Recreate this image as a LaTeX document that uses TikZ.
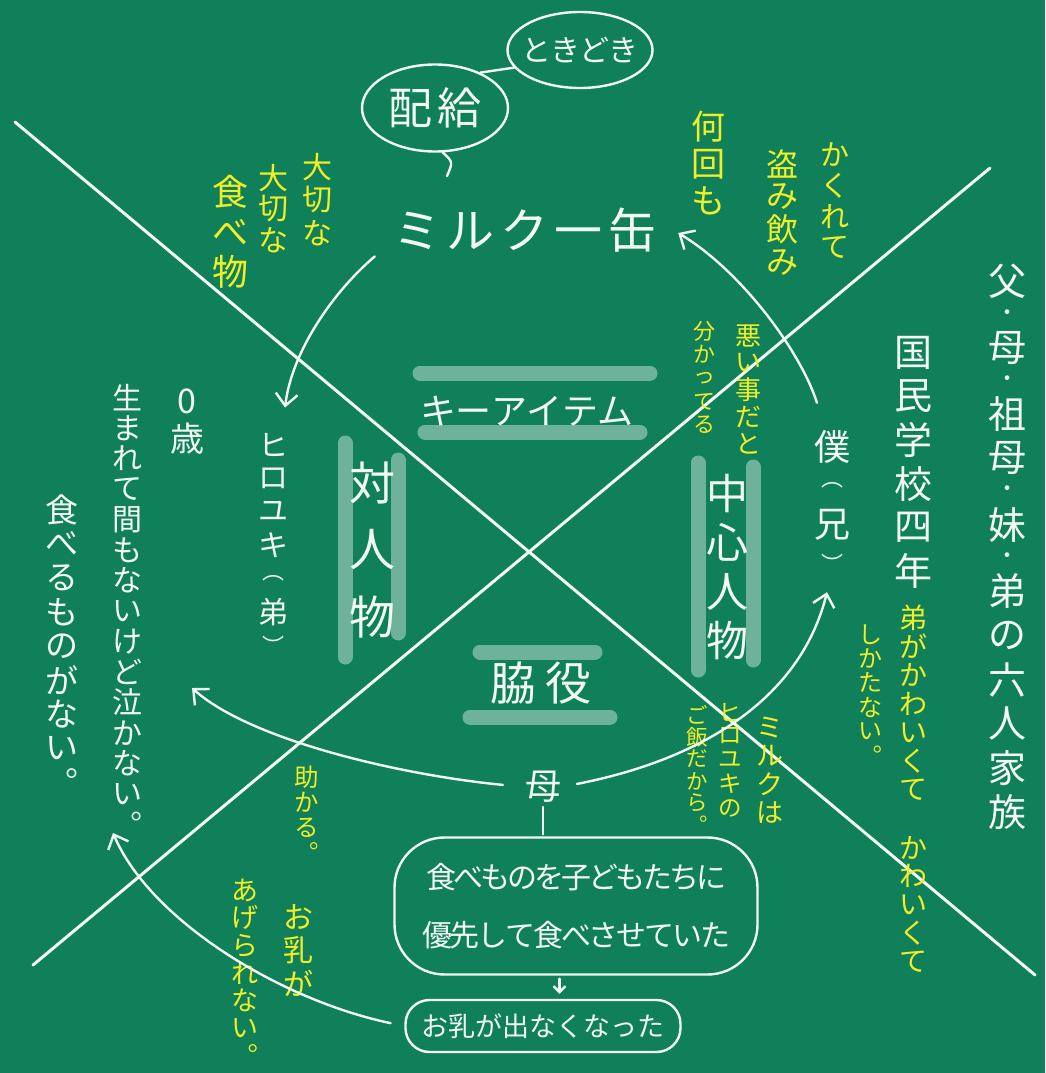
\documentclass[tikz,border=0pt]{standalone}
\usepackage{fontspec}
\usetikzlibrary{shapes.geometric,arrows.meta,calc}
\newfontfamily\jp{Noto Sans CJK JP}
\definecolor{board}{RGB}{15,128,90}
\definecolor{chalk}{RGB}{242,248,242}
\definecolor{chalky}{RGB}{240,238,40}
\makeatletter
\def\vs@t{・}
\def\vs@pa{︵}
\def\vs@pb{︶}
\newcommand\vs@cell[2]{\vbox to #1{\vss\hbox to 1em{\hss#2\hss}\vss}}
\newcommand\vt[3]{\vbox{\offinterlineskip\@tfor\vs@c:=#3\do{%
  \ifx\vs@c\vs@t\vs@cell{#2}{\fontsize{#2}{#2}\selectfont\vs@c}%
  \else\ifx\vs@c\vs@pa\vs@cell{#1}{\fontsize{22}{22}\selectfont\vs@c}%
  \else\ifx\vs@c\vs@pb\vs@cell{#1}{\fontsize{22}{22}\selectfont\vs@c}%
  \else\vs@cell{#1}{\vs@c}\fi\fi\fi}}}
\newcommand\hstk[2]{\hbox{\@tfor\vs@c:=#2\do{\hbox to #1{\hss\vs@c\hss}}}}
\makeatother
\begin{document}
\begin{tikzpicture}[x=1pt,y=-1pt,
  wt/.style={text=chalk,inner sep=0pt},
  yl/.style={text=chalky,inner sep=0pt},
  hf/.style={font=\jp\fontsize{#1}{#1}\selectfont},
  vf/.style={font=\jp\fontsize{#1}{#1}\selectfont},
  ln/.style={draw=chalk,line width=2.4pt,line cap=round,line join=round},
  arr/.style={ln,-{Straight Barb[length=12pt,width=22pt]}},
  bar/.style={draw=white,draw opacity=0.4,line width=15pt,line cap=round},
  ov/.style={ln,ellipse,inner sep=0pt,text=chalk},
  diag/.style={ln,line width=3pt}]
\fill[board] (0,0) rectangle (1045,1073);
\useasboundingbox (0,0) rectangle (1045,1073);
% translucent bars
\draw[bar] (420,373) -- (650,373);
\draw[bar] (425,432) -- (640,432);
\draw[bar] (480,652) -- (595,652);
\draw[bar] (470,717) -- (610,717);
\draw[bar] (345,443) -- (345,657);
\draw[bar] (398,460) -- (398,633);
\draw[bar] (698,463) -- (698,670);
\draw[bar] (753,467) -- (753,660);
% big X
\draw[diag] (15,122) -- (1035,975);
\draw[diag] (33,965) -- (990,168);
% white nodes
\node[wt,hf=48] (milk) at (525,230) {\hstk{54pt}{ミルク一缶}};
\node[ov,hf=44,minimum width=146pt,minimum height=87pt] (haikyu) at (435,108) {\hstk{50pt}{配給}};
\node[ov,hf=30,minimum width=145pt,minimum height=76pt,inner xsep=-7pt] (tokidoki) at (580,50) {\hstk{29pt}{ときどき}};
\node[wt,hf=36] (keyitem) at (527,411) {\hstk{35.5pt}{キーアイテム}};
\node[wt,hf=46] (waki) at (541,683) {\hstk{56pt}{脇役}};
\node[wt,vf=46] (tai) at (372,550) {\vt{67pt}{67pt}{対人物}};
\node[wt,vf=42] (chushin) at (727,567) {\vt{49pt}{49pt}{中心人物}};
\node[wt,vf=30] (hiroyuki) at (273,545) {\vt{33.5pt}{33.5pt}{ヒロユキ︵弟︶}};
\node[wt,vf=34] (sai) at (187,420) {\vt{37pt}{37pt}{0歳}};
\node[wt,vf=30] (umare) at (127,611) {\vt{30.5pt}{30.5pt}{生まれて間もないけど泣かない︒}};
\node[wt,vf=33] (taberu) at (62,646) {\vt{34pt}{34pt}{食べるものがない︒}};
\node[wt,vf=36] (boku) at (832,505) {\vt{39pt}{39pt}{僕︵兄︶}};
\node[wt,vf=38] (kokumin) at (913,462) {\vt{43.7pt}{43.7pt}{国民学校四年}};
\node[wt,vf=38] (family) at (1007,547) {\vt{44.3pt}{22pt}{父・母・祖母・妹・弟の六人家族}};
\node[wt,hf=36] (haha) at (543,787) {母};
\node[ln,wt,hf=30,rounded corners=50pt,minimum width=363pt,minimum height=137pt,align=center] (bigbox) at (576,906)
  {\hstk{27pt}{食べものを子どもたちに}\\[28pt]\hstk{27.8pt}{優先して食べさせていた}};
\node[ln,wt,hf=27,rounded corners=24pt,minimum width=275pt,minimum height=52pt] (oppai) at (543,1026) {\hstk{27pt}{お乳が出なくなった}};
% yellow notes
\node[yl,vf=30] (taisetsu1) at (317,200) {\vt{33pt}{33pt}{大切な}};
\node[yl,vf=30] (taisetsu2) at (273,209) {\vt{31pt}{31pt}{大切な}};
\node[yl,vf=36] (tabemono) at (230,232) {\vt{40pt}{40pt}{食べ物}};
\node[yl,vf=34] (nankai) at (708,164) {\vt{37pt}{37pt}{何回も}};
\node[yl,vf=32] (nusumi) at (782,213) {\vt{33pt}{33pt}{盗み飲み}};
\node[yl,vf=29] (kakurete) at (835,201) {\vt{31pt}{31pt}{かくれて}};
\node[yl,vf=26] (warui) at (748,390) {\vt{27pt}{27pt}{悪い事だと}};
\node[yl,vf=22] (wakatteru) at (704,378) {\vt{23.5pt}{23.5pt}{分かってる}};
\node[yl,vf=27] (milkwa) at (770,770) {\vt{28.5pt}{28.5pt}{ミルクは}};
\node[yl,vf=23.5] (hiroyukino) at (730,760) {\vt{24pt}{24pt}{ヒロユキの}};
\node[yl,vf=21.5] (gohan) at (697,770) {\vt{22pt}{22pt}{ご飯だから︒}};
\node[yl,vf=28] (otouto) at (913,790) {\vt{28.7pt}{28.7pt}{弟がかわいくて　かわいくて}};
\node[yl,vf=24] (shikata) at (870,695) {\vt{24.3pt}{24.3pt}{しかたない︒}};
\node[yl,vf=24.5] (tasukaru) at (307,815) {\vt{25pt}{25pt}{助かる︒}};
\node[yl,vf=30] (ochichi) at (298,950) {\vt{33pt}{33pt}{お乳が}};
\node[yl,vf=27] (agerare) at (245,973) {\vt{27.6pt}{27.6pt}{あげられない︒}};
% free ends
\coordinate (tail) at (447,176);
\coordinate (sakiL) at (192,688);
\coordinate (mid) at ($(bigbox.south)!0.5!(oppai.north)$);
% connectors
\draw[ln] (haikyu.-80) .. controls (453,162) .. (tail);
\draw[ln] (tokidoki.195) -- (haikyu.38);
\draw[arr] ([shift={(-15,4)}]milk.south west) .. controls (335,290) and (292,350) .. ([shift={(12,-20)}]hiroyuki.north);
\draw[arr] ([shift={(-15,-24)}]boku.north) .. controls (800,350) and (740,270) .. ([shift={(18,3)}]milk.east);
\draw[arr,shorten <=16pt] (haha.east) .. controls (700,760) and (800,700) .. ([shift={(-5,9)}]boku.south);
\draw[arr,shorten <=22pt] (haha.west) .. controls (400,775) and (250,740) .. (sakiL);
\draw[arr,shorten <=14pt] (oppai.west) .. controls (280,1000) and (150,920) .. ([shift={(-14,-7)}]umare.south);
\draw[ln,shorten <=4pt,shorten >=2pt] (haha.south) -- (haha.south |- bigbox.north);
\draw[ln,-{Straight Barb[length=6pt,width=12pt]},shorten <=3pt,shorten >=5pt] (mid |- bigbox.south) -- (mid |- oppai.north);
\end{tikzpicture}
\end{document}
